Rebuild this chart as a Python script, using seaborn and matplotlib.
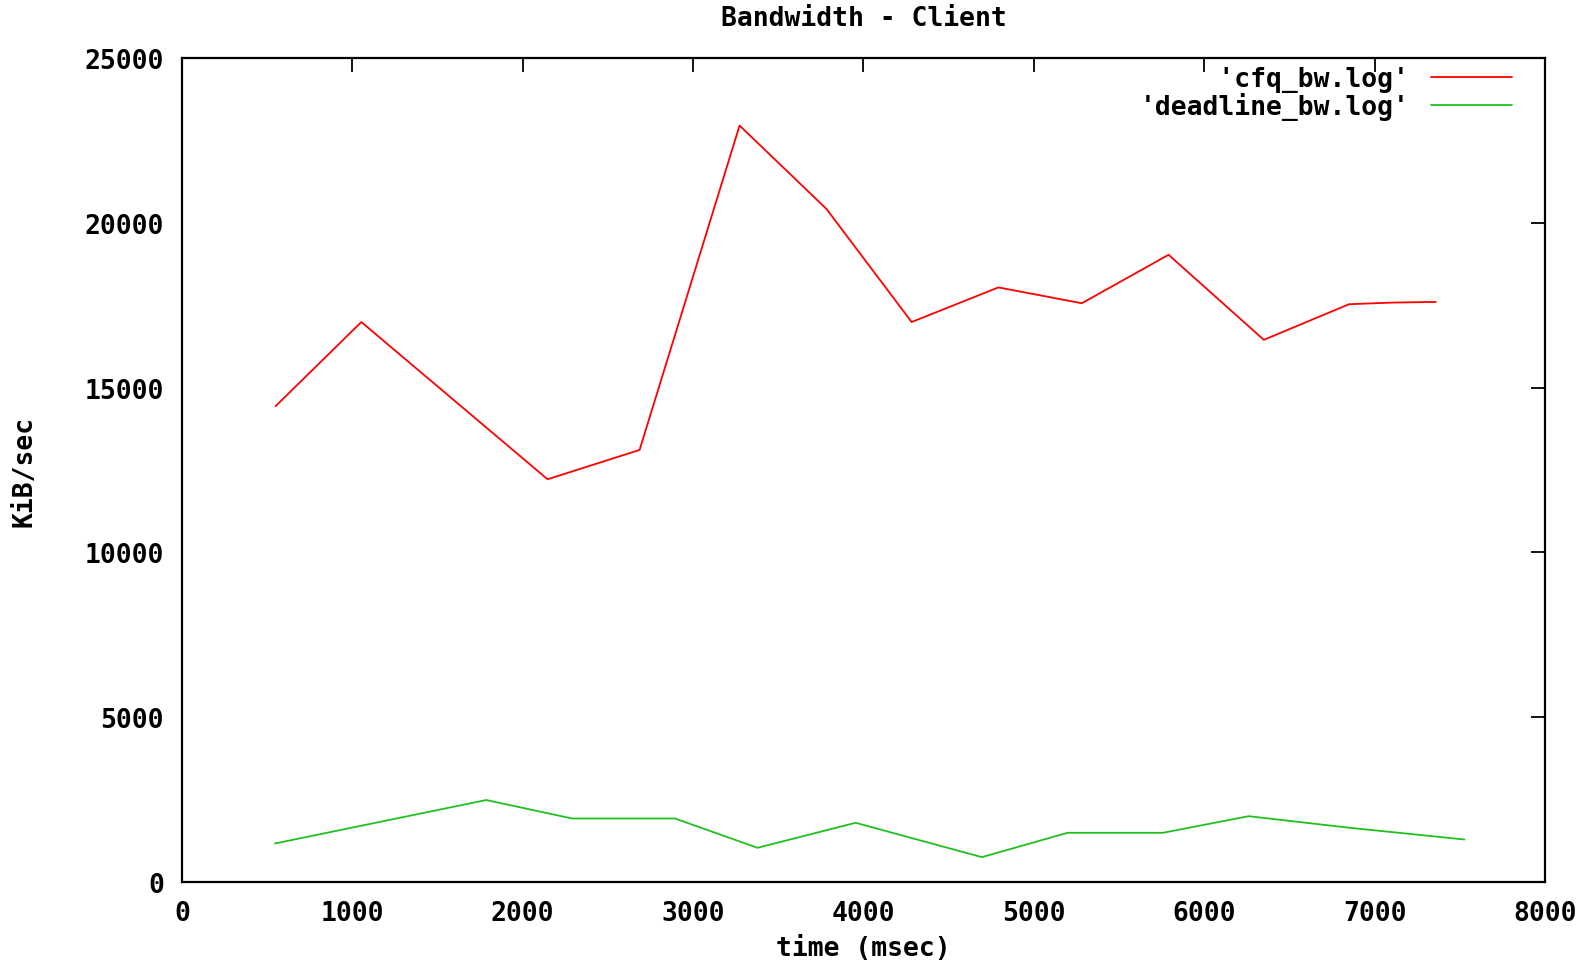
import pandas as pd
import matplotlib
matplotlib.use('Agg')
import matplotlib.pyplot as plt
import seaborn as sns

# values
cfq_time = [550, 1053, 2146, 2686, 3273, 3783, 4283, 4792, 5282, 5791, 6350, 6850, 7105, 7359]
cfq_bw = [14440, 16990, 12220, 13110, 22950, 20420, 16990, 18040, 17560, 19030, 16450, 17530, 17580, 17600]

deadline_time = [546, 1786, 2290, 2894, 3378, 3954, 4695, 5198, 5758, 6261, 6850, 7528]
deadline_bw = [1172, 2490, 1930, 1930, 1041, 1800, 757, 1496, 1496, 2000, 1650, 1293]

x_ticks = [0, 1000, 2000, 3000, 4000, 5000, 6000, 7000, 8000]
y_ticks = [0, 5000, 10000, 15000, 20000, 25000]

# monospace labels padded so they line up on the right like gnuplot does
labels = ["'cfq_bw.log'", "'deadline_bw.log'"]
width = max(len(s) for s in labels)
labels = [s.rjust(width) for s in labels]

df = pd.concat([
    pd.DataFrame({'time': cfq_time, 'bw': cfq_bw, 'file': labels[0]}),
    pd.DataFrame({'time': deadline_time, 'bw': deadline_bw, 'file': labels[1]}),
])

sns.set_style('white')
plt.rcParams['font.family'] = ['DejaVu Sans Mono']
plt.rcParams['font.weight'] = 'bold'
plt.rcParams['text.color'] = 'black'
plt.rcParams['axes.labelcolor'] = 'black'
fs = 19

fig = plt.figure(figsize=(15.96, 9.62), dpi=100)
ax = fig.add_axes([0.114, 0.082, 0.854, 0.8567])

sns.lineplot(data=df, x='time', y='bw', hue='file', sort=False,
             palette=['#ff0000', '#20c020'], linewidth=1.3, ax=ax)

ax.set_xlim(0, 8000)
ax.set_ylim(0, 25000)
ax.set_xticks(x_ticks)
ax.set_yticks(y_ticks)
ax.tick_params(direction='in', top=True, right=True, length=10, width=1.3,
               labelsize=fs, pad=13, colors='black')
for lab in ax.get_xticklabels() + ax.get_yticklabels():
    lab.set_fontweight('bold')
for sp in ax.spines.values():
    sp.set_color('black')
    sp.set_linewidth(1.6)

ax.set_title('Bandwidth - Client', fontsize=fs, fontweight='bold', pad=24, color='black')
ax.set_xlabel('time (msec)', fontsize=fs, fontweight='bold')
ax.set_ylabel('KiB/sec', fontsize=fs, fontweight='bold')
ax.xaxis.set_label_coords(0.5, -0.080)
ax.xaxis.label.set_va('center')
ax.yaxis.set_label_coords(-0.1152, 0.5)
ax.yaxis.label.set_va('center')

leg = ax.legend(loc='upper right', bbox_to_anchor=(0.976, 0.99), frameon=False,
                markerfirst=False, fontsize=fs, handlelength=3.07, handletextpad=0.83,
                labelspacing=0.0, borderaxespad=0, borderpad=0)
for t in leg.get_texts():
    t.set_fontweight('bold')
    t.set_color('black')

fig.savefig('out.png', dpi=100, facecolor='white')
